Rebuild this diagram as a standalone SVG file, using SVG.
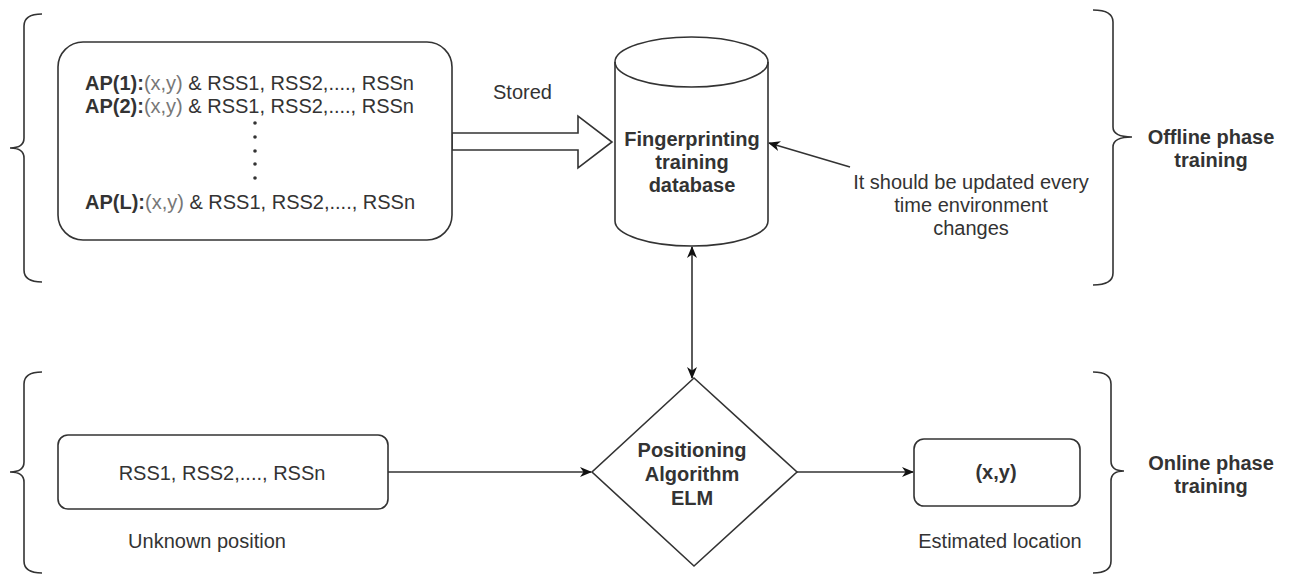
<svg xmlns="http://www.w3.org/2000/svg" width="1294" height="574" viewBox="0 0 1294 574">
<defs>
<style>
.t{font-family:"Liberation Sans",Arial,sans-serif;font-size:20px;fill:#333}
.b{font-weight:bold}
.g{fill:#777}
.c{text-anchor:middle}
.shape{fill:#fff;stroke:#333;stroke-width:1.6}
.brace{fill:none;stroke:#333;stroke-width:1.6}
.line{fill:none;stroke:#333;stroke-width:1.6}
</style>
<marker id="arr" viewBox="0 0 12 10" refX="11" refY="5" markerWidth="12" markerHeight="10" markerUnits="userSpaceOnUse" orient="auto-start-reverse">
<path d="M0,0 L12,5 L0,10 L3.5,5 Z" fill="#111"/>
</marker>
</defs>
<rect width="1294" height="574" fill="#fff"/>

<g id="brace-offline-left">
<path class="brace" d="M42,14 Q24,14 24,26 L24,138 Q24,148 10,148 Q24,148 24,158 L24,270 Q24,282 42,282"/>
</g>
<g id="brace-offline-right">
<path class="brace" d="M1093,10 Q1113,10 1113,22 L1113,127 Q1113,137 1132,137 Q1113,137 1113,147 L1113,273 Q1113,285 1093,285"/>
</g>
<g id="brace-online-left">
<path class="brace" d="M42,372 Q24,372 24,384 L24,462 Q24,472 10,472 Q24,472 24,482 L24,561 Q24,573 42,573"/>
</g>
<g id="brace-online-right">
<path class="brace" d="M1093,372 Q1111,372 1111,384 L1111,461 Q1111,471 1124,471 Q1111,471 1111,481 L1111,561 Q1111,573 1093,573"/>
</g>

<g id="connectors">
<polygon class="shape" points="452,133 578,133 578,116 612,142 578,168 578,150 452,150"/>
<line class="line" x1="850" y1="167" x2="769" y2="143" marker-end="url(#arr)"/>
<line class="line" x1="692" y1="247" x2="692" y2="378" marker-start="url(#arr)" marker-end="url(#arr)"/>
<line class="line" x1="388" y1="472" x2="591" y2="472" marker-end="url(#arr)"/>
<line class="line" x1="797" y1="472" x2="913" y2="472" marker-end="url(#arr)"/>
</g>

<g id="fingerprint-list">
<rect class="shape" x="58" y="42" width="394" height="198" rx="25" ry="25"/>
<text class="t" x="85" y="90"><tspan class="b">AP(1):</tspan><tspan class="g">(x,y)</tspan> &amp; RSS1, RSS2,...., RSSn</text>
<text class="t" x="85" y="113"><tspan class="b">AP(2):</tspan><tspan class="g">(x,y)</tspan> &amp; RSS1, RSS2,...., RSSn</text>
<g fill="#333">
<circle cx="255" cy="123" r="1.8"/><circle cx="255" cy="137" r="1.8"/><circle cx="255" cy="151" r="1.8"/><circle cx="255" cy="164" r="1.8"/><circle cx="255" cy="178" r="1.8"/>
</g>
<text class="t" x="85" y="209"><tspan class="b">AP(L):</tspan><tspan class="g">(x,y)</tspan> &amp; RSS1, RSS2,...., RSSn</text>
</g>

<g id="stored-label">
<text class="t" x="493" y="99">Stored</text>
</g>

<g id="database">
<path class="shape" d="M615,62 A76.5,25 0 0 1 768,62 L768,221 A76.5,25 0 0 1 615,221 Z"/>
<path class="line" d="M615,62 A76.5,25 0 0 0 768,62"/>
<text class="t b c" x="692" y="146">Fingerprinting</text>
<text class="t b c" x="692" y="169">training</text>
<text class="t b c" x="692" y="192">database</text>
</g>

<g id="update-note">
<text class="t c" x="971" y="189">It should be updated every</text>
<text class="t c" x="971" y="212">time environment</text>
<text class="t c" x="971" y="235">changes</text>
</g>

<g id="offline-label">
<text class="t b c" x="1211" y="144">Offline phase</text>
<text class="t b c" x="1211" y="167">training</text>
</g>

<g id="rss-input">
<rect class="shape" x="58" y="435" width="330" height="74" rx="10" ry="10"/>
<text class="t c" x="222" y="480">RSS1, RSS2,...., RSSn</text>
</g>
<g id="unknown-label">
<text class="t c" x="207" y="548">Unknown position</text>
</g>

<g id="algorithm">
<polygon class="shape" points="694,378 797,472 694,566 592,472"/>
<text class="t b c" x="692" y="457">Positioning</text>
<text class="t b c" x="692" y="481">Algorithm</text>
<text class="t b c" x="692" y="505">ELM</text>
</g>

<g id="estimate">
<rect class="shape" x="914" y="439" width="166" height="67" rx="10" ry="10"/>
<text class="t b c" x="996" y="479">(x,y)</text>
</g>
<g id="estimated-label">
<text class="t c" x="1000" y="548">Estimated location</text>
</g>

<g id="online-label">
<text class="t b c" x="1211" y="470">Online phase</text>
<text class="t b c" x="1211" y="493">training</text>
</g>
</svg>
